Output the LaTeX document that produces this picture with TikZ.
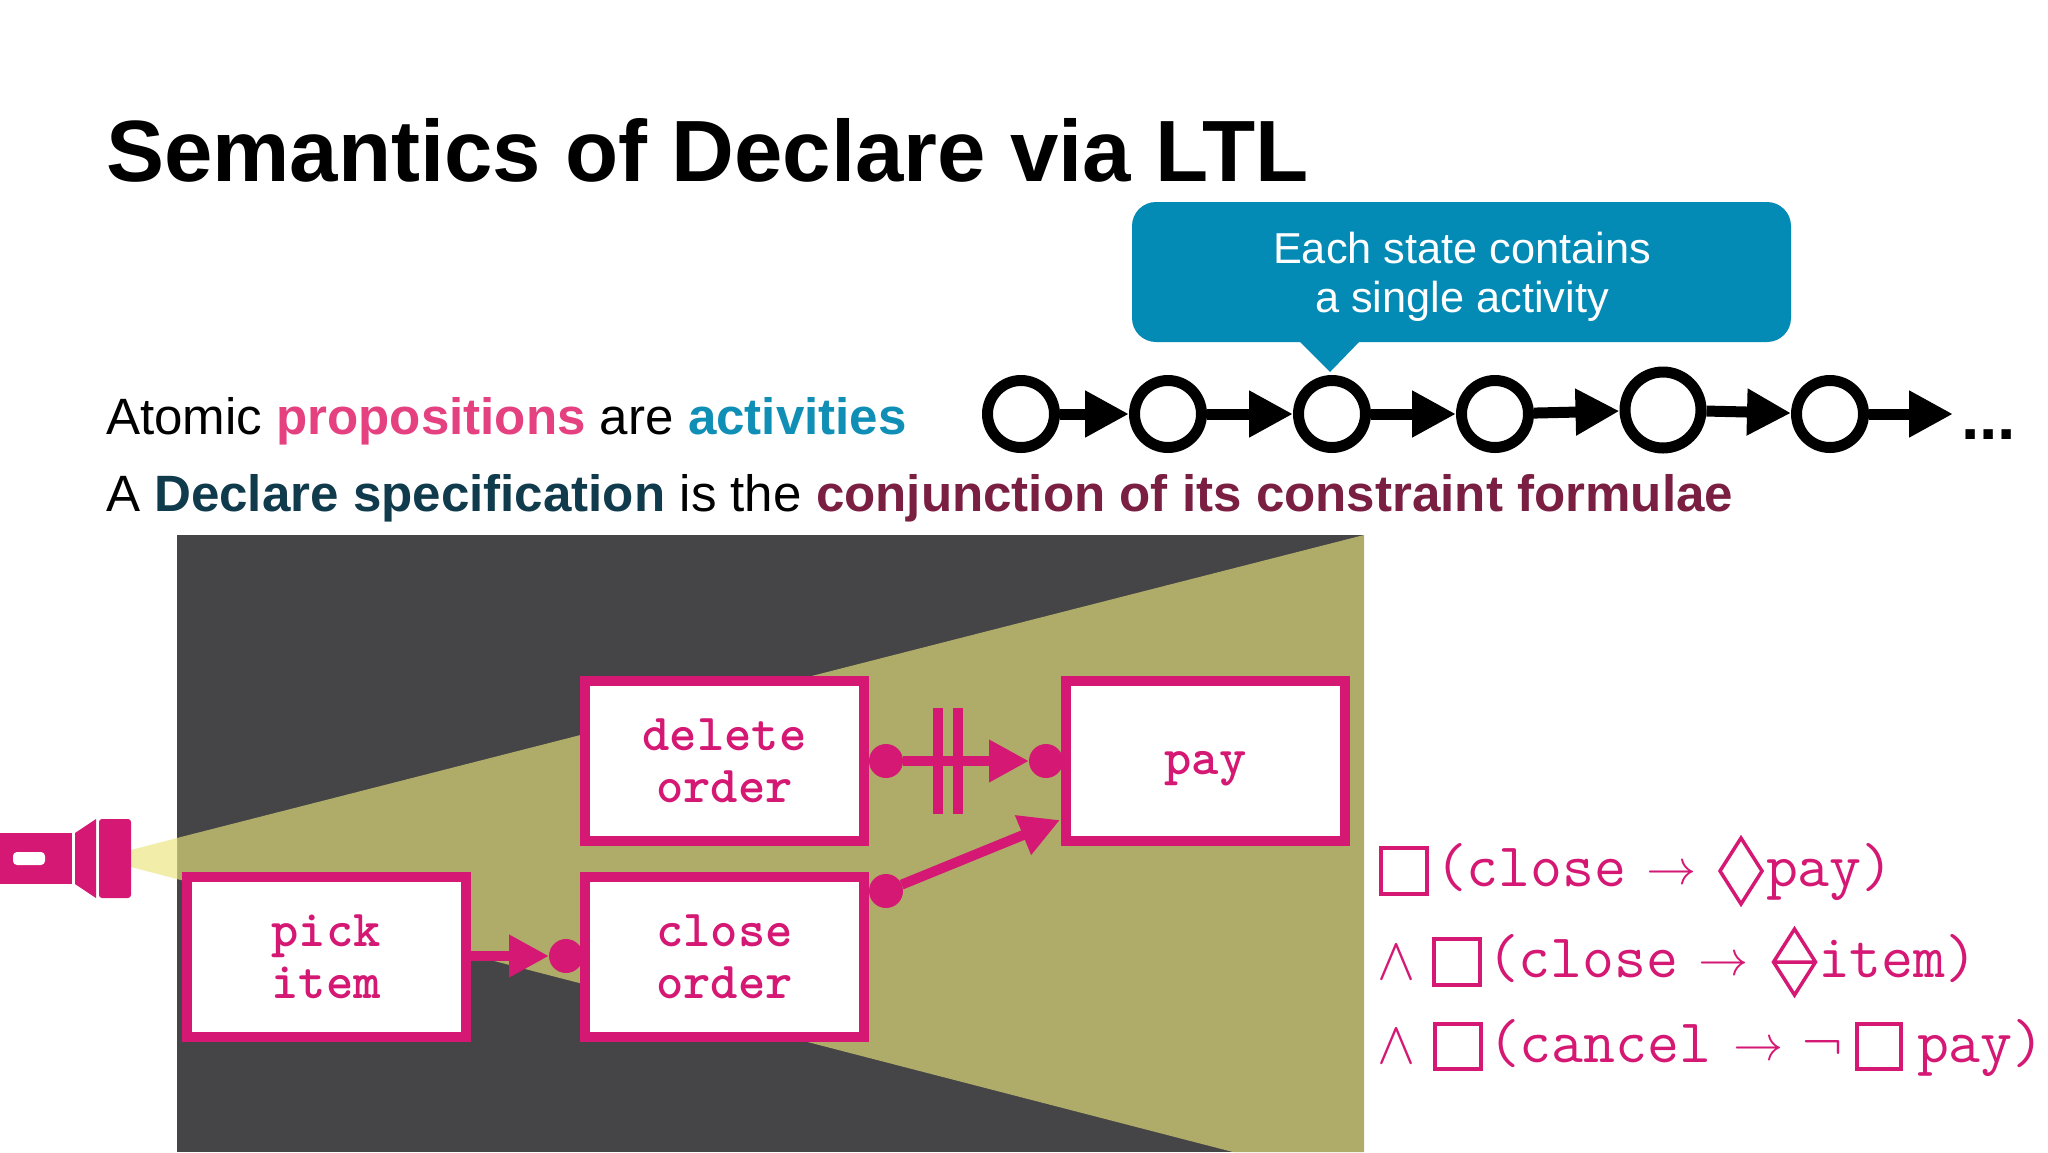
\documentclass[tikz,border=0pt]{standalone}
\usepackage{fontspec}
\setmainfont{Liberation Sans}
\setmonofont{Latin Modern Mono}
\newfontfamily\mathglyphs{Latin Modern Math}
\newfontfamily\boxface{lmmonolt10-bold.otf}
\usetikzlibrary{arrows.meta}
\definecolor{pk}{HTML}{D41873}
\definecolor{darkbg}{HTML}{454446}
\definecolor{olive}{HTML}{AFAC6A}
\definecolor{paleb}{HTML}{F2EEAA}
\definecolor{callout}{HTML}{048BB5}
\definecolor{propc}{HTML}{E5407F}
\definecolor{actc}{HTML}{0F8FB5}
\definecolor{declc}{HTML}{0F3B4C}
\definecolor{conjc}{HTML}{7A1E42}
\tikzset{
  txt/.style={anchor=base west,inner sep=0pt,outer sep=0pt},
  head/.style={font=\fontsize{87}{87}\selectfont\bfseries},
  body/.style={font=\fontsize{51.1}{51}\selectfont},
  note/.style={text=white,font=\fontsize{43.3}{43}\selectfont,anchor=base,inner sep=0pt},
  state/.style={circle,draw=black,fill=white,line width=11pt,minimum size=67pt,inner sep=0pt},
  bigstate/.style={state,minimum size=76pt},
  next/.style={draw=black,line width=11pt,-{Triangle[length=44pt,width=44pt]}},
  act/.style={rectangle,draw=pk,fill=white,line width=10pt,minimum width=279pt,minimum height=160pt,inner sep=0pt,text=pk,align=center,font=\fontsize{52}{52}\selectfont\boxface},
  dot/.style={circle,fill=pk,minimum size=34pt,inner sep=0pt,outer sep=0pt},
  rel/.style={draw=pk,line width=10pt,-{Triangle[length=40pt,width=40pt]}},
  bar/.style={draw=pk,line width=10pt},
  ltl/.style={txt,text=pk,font=\fontsize{62}{62}\ttfamily\fontseries{l}\selectfont},
  sym/.style={txt,text=pk,font=\fontsize{60}{60}\selectfont\mathglyphs},
  arrowsym/.style={txt,text=pk,font=\fontsize{50}{50}\selectfont\mathglyphs},
  box/.style={draw=pk,line width=4pt},
  lozenge/.style={draw=pk,line width=3.5pt,line join=miter}
}
\begin{document}
\begin{tikzpicture}[x=1pt,y=-1pt]
\useasboundingbox[fill=white] (0,0) rectangle (2048,1152);
% title and text
\node[txt,head] (title) at (106,181) {Semantics of Declare via LTL};
\node[txt,body] (line1) at (106,434) {Atomic \textbf{\textcolor{propc}{propositions}} are \textbf{\textcolor{actc}{activities}}};
\node[txt,body] (line2) at (106,511) {A \textbf{\textcolor{declc}{Declare specification}} is the \textbf{\textcolor{conjc}{conjunction of its constraint formulae}}};
% callout
\fill[callout,rounded corners=24pt] (1132,202) rectangle (1791,342);
\fill[callout] (1298,340) -- (1361,340) -- (1330,372) -- cycle;
\node[note] (n1) at (1462,263) {Each state contains};
\node[note] (n2) at (1462,312) {a single activity};
% trace
\node[state] (s1) at (1021,414) {};
\node[state] (s2) at (1168,414) {};
\node[state] (s3) at (1332,414) {};
\node[state] (s4) at (1495,414) {};
\node[bigstate] (s5) at (1663,410) {};
\node[state] (s6) at (1830,414) {};
\coordinate (s7) at (1953,414);
\draw[next] (s1) -- (s2);
\draw[next] (s2) -- (s3);
\draw[next] (s3) -- (s4);
\draw[next] (s4) -- (s5);
\draw[next] (s5) -- (s6);
\draw[next] (s6) -- (s7);
\node[txt,font=\fontsize{66}{66}\selectfont\bfseries] (more) at (1961,439) {...};
% dark panel and beam
\fill[darkbg] (177,535) rectangle (1364,1152);
\fill[olive] (177,838) -- (1364,535) -- (1364,1152) -- (1233,1152) -- (177,879) -- cycle;
\fill[paleb] (131,850) -- (177,838) -- (177,879) -- (131,867) -- cycle;
% flashlight
\fill[pk] (0,833) rectangle (72,884);
\fill[white,rounded corners=4pt] (13,852) rectangle (45,865);
\fill[pk] (75,833) -- (96,819) -- (96,898) -- (75,884) -- cycle;
\fill[pk,rounded corners=3pt] (99,819) rectangle (131,898);
% activities
\node[act] (delete) at (724.5,761) {delete\\order};
\node[act] (close) at (724.5,956.5) {close\\order};
\node[act] (pick) at (326,956.5) {pick\\item};
\node[act,text height=36pt,text depth=10pt] (pay) at (1205.5,761) {pay};
% relations
\node[dot] (d1) at (566,956) {};
\node[dot] (d2) at (886,761) {};
\node[dot] (d3) at (1046,761) {};
\node[dot] (d4) at (886,891) {};
\coordinate (payin) at (1060,820);
\draw[rel] (pick.east |- d1) -- (d1);
\draw[rel] (d2) -- (d3);
\draw[rel] (d4) -- (payin);
\draw[bar] (938,708) -- (938,814);
\draw[bar] (958,708) -- (958,814);
% formula line 1
\draw[box] (1381,848) rectangle (1427,894);
\node[ltl] (f1a) at (1435,886) {(close};
\node[arrowsym] (f1b) at (1646,884) {→};
\draw[lozenge] (1741,838) -- (1762,871) -- (1741,904) -- (1720,871) -- cycle;
\node[ltl] (f1c) at (1766,886) {pay)};
% formula line 2
\node[sym] (f2a) at (1376,979) {∧};
\draw[box] (1434,939) rectangle (1480,985);
\node[ltl] (f2b) at (1487,977) {(close};
\node[arrowsym] (f2c) at (1698,975) {→};
\draw[lozenge] (1794.5,929) -- (1815.5,962) -- (1794.5,995) -- (1773.5,962) -- cycle (1773.5,962) -- (1815.5,962);
\node[ltl] (f2d) at (1818,977) {item)};
% formula line 3
\node[sym] (f3a) at (1376,1063) {∧};
\draw[box] (1435,1024) rectangle (1481,1069);
\node[ltl] (f3b) at (1488,1062) {(cancel};
\node[arrowsym] (f3c) at (1733,1060) {→};
\node[sym] (f3d) at (1802,1062) {¬};
\draw[box] (1857,1024) rectangle (1901,1069);
\node[ltl] (f3e) at (1917,1062) {pay)};
\end{tikzpicture}
\end{document}
